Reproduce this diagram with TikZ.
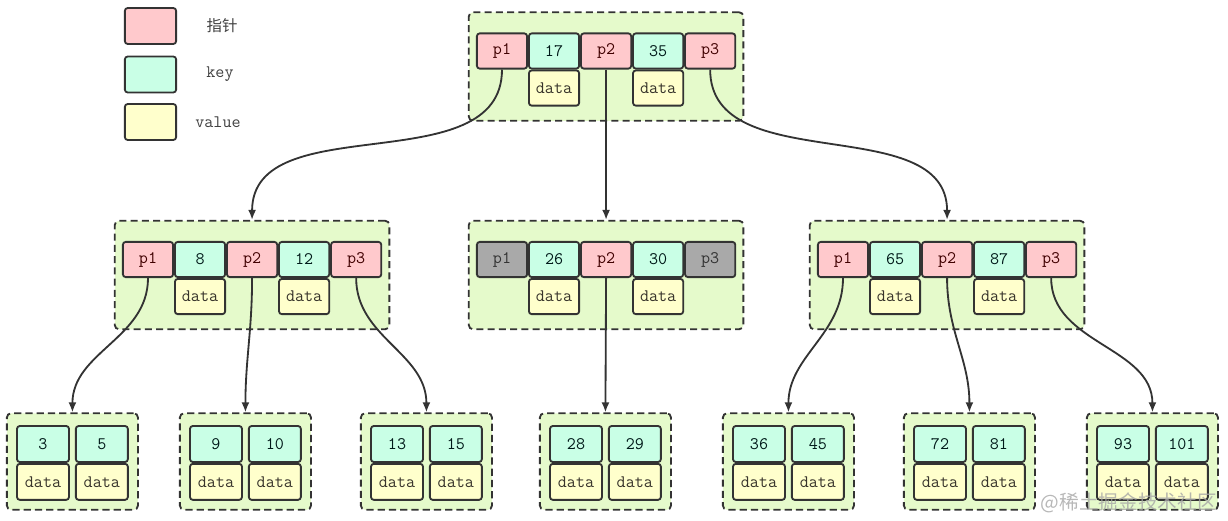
\documentclass[tikz,border=0pt]{standalone}
\usepackage{fontspec}
\newfontfamily\cjk{Noto Sans CJK SC}
\usepackage{tikz}
\usetikzlibrary{arrows.meta, positioning, fit, backgrounds}
\tikzset{>={Latex[width=2mm,length=2.5mm]}}
\definecolor{ptrred}{HTML}{FFC9CC}
\definecolor{keygreen}{HTML}{C9FFE6}
\definecolor{valyellow}{HTML}{FFFFCC}
\definecolor{nilgray}{HTML}{A9A9A9}
\definecolor{boxgreen}{HTML}{E5FACB}
\definecolor{linegray}{HTML}{333333}
\tikzset{
  cell/.style = {draw=linegray, line width=1.3pt, rounded corners=2pt,
    minimum width=1.255cm, minimum height=0.88cm, inner sep=0pt,
    font=\ttfamily\fontsize{12.5}{14}\selectfont},
  ptrcell/.style = {cell, fill=ptrred, text=black!75!red},
  keycell/.style = {cell, fill=keygreen, text=black!80!teal},
  valcell/.style = {cell, fill=valyellow, text=black!80!olive},
  nilcell/.style = {cell, fill=nilgray, text=black!80},
  leafcell/.style = {minimum width=1.3cm, minimum height=0.9cm},
  groupbox/.style = {draw=linegray, dash pattern=on 5pt off 3pt, line width=1.3pt,
    fill=boxgreen, rounded corners=3pt, inner xsep=0.18cm, inner ysep=0.43cm, yshift=0.075cm},
  leafbox/.style = {groupbox, inner xsep=0.23cm, inner ysep=0.26cm, yshift=-0.04cm},
  legendtext/.style = {text=black!75, font=\ttfamily\fontsize{12.5}{14}\selectfont}
}
\begin{document}
\begin{tikzpicture}[x=0.025cm, y=-0.025cm]
\useasboundingbox (0,0) rectangle (1228,520);
% legend
\node (lg1) [ptrcell, minimum width=1.28cm, minimum height=0.9cm] at (150.5,26) {};
\node (lg2) [keycell, minimum width=1.28cm, minimum height=0.9cm] at (150.5,74.5) {};
\node (lg3) [valcell, minimum width=1.28cm, minimum height=0.9cm] at (150.5,122) {};
\node (lgt1) [legendtext, font=\cjk\fontsize{11}{12}\selectfont] at (222,26) {指针};
\node (lgt2) [legendtext] at (220,74) {key};
\node (lgt3) [legendtext] at (218,122) {value};

% root
\node (r1) [ptrcell] at (502,51) {p1};
\node (rk1) [keycell, right=0pt of r1] {17};
\node (r2) [ptrcell, right=0pt of rk1] {p2};
\node (rk2) [keycell, right=0pt of r2] {35};
\node (r3) [ptrcell, right=0pt of rk2] {p3};
\node (rd1) [valcell, below=0pt of rk1] {data};
\node (rd2) [valcell, below=0pt of rk2] {data};

% second level
\node (a1) [ptrcell] at (148,259.5) {p1};
\node (ak1) [keycell, right=0pt of a1] {8};
\node (a2) [ptrcell, right=0pt of ak1] {p2};
\node (ak2) [keycell, right=0pt of a2] {12};
\node (a3) [ptrcell, right=0pt of ak2] {p3};
\node (ad1) [valcell, below=0pt of ak1] {data};
\node (ad2) [valcell, below=0pt of ak2] {data};

\node (b1) [nilcell] at (502,259.5) {p1};
\node (bk1) [keycell, right=0pt of b1] {26};
\node (b2) [ptrcell, right=0pt of bk1] {p2};
\node (bk2) [keycell, right=0pt of b2] {30};
\node (b3) [nilcell, right=0pt of bk2] {p3};
\node (bd1) [valcell, below=0pt of bk1] {data};
\node (bd2) [valcell, below=0pt of bk2] {data};

\node (c1) [ptrcell] at (843,259.5) {p1};
\node (ck1) [keycell, right=0pt of c1] {65};
\node (c2) [ptrcell, right=0pt of ck1] {p2};
\node (ck2) [keycell, right=0pt of c2] {87};
\node (c3) [ptrcell, right=0pt of ck2] {p3};
\node (cd1) [valcell, below=0pt of ck1] {data};
\node (cd2) [valcell, below=0pt of ck2] {data};

% leaves
\node (l1k1) [keycell, leafcell] at (43,444) {3};
\node (l1k2) [keycell, leafcell, right=0.125cm of l1k1] {5};
\node (l1d1) [valcell, leafcell, below=0pt of l1k1] {data};
\node (l1d2) [valcell, leafcell, below=0pt of l1k2] {data};

\node (l2k1) [keycell, leafcell] at (216,444) {9};
\node (l2k2) [keycell, leafcell, right=0.125cm of l2k1] {10};
\node (l2d1) [valcell, leafcell, below=0pt of l2k1] {data};
\node (l2d2) [valcell, leafcell, below=0pt of l2k2] {data};

\node (l3k1) [keycell, leafcell] at (397,444) {13};
\node (l3k2) [keycell, leafcell, right=0.125cm of l3k1] {15};
\node (l3d1) [valcell, leafcell, below=0pt of l3k1] {data};
\node (l3d2) [valcell, leafcell, below=0pt of l3k2] {data};

\node (l4k1) [keycell, leafcell] at (576,444) {28};
\node (l4k2) [keycell, leafcell, right=0.125cm of l4k1] {29};
\node (l4d1) [valcell, leafcell, below=0pt of l4k1] {data};
\node (l4d2) [valcell, leafcell, below=0pt of l4k2] {data};

\node (l5k1) [keycell, leafcell] at (759,444) {36};
\node (l5k2) [keycell, leafcell, right=0.125cm of l5k1] {45};
\node (l5d1) [valcell, leafcell, below=0pt of l5k1] {data};
\node (l5d2) [valcell, leafcell, below=0pt of l5k2] {data};

\node (l6k1) [keycell, leafcell] at (940,444) {72};
\node (l6k2) [keycell, leafcell, right=0.125cm of l6k1] {81};
\node (l6d1) [valcell, leafcell, below=0pt of l6k1] {data};
\node (l6d2) [valcell, leafcell, below=0pt of l6k2] {data};

\node (l7k1) [keycell, leafcell] at (1123,444) {93};
\node (l7k2) [keycell, leafcell, right=0.125cm of l7k1] {101};
\node (l7d1) [valcell, leafcell, below=0pt of l7k1] {data};
\node (l7d2) [valcell, leafcell, below=0pt of l7k2] {data};

% dashed boxes behind the cells
\begin{scope}[on background layer]
\node (R) [groupbox, fit=(r1)(r3)(rd1)] {};
\node (A) [groupbox, fit=(a1)(a3)(ad1)] {};
\node (B) [groupbox, fit=(b1)(b3)(bd1)] {};
\node (C) [groupbox, fit=(c1)(c3)(cd1)] {};
\node (L1) [leafbox, fit=(l1k1)(l1d2)] {};
\node (L2) [leafbox, fit=(l2k1)(l2d2)] {};
\node (L3) [leafbox, fit=(l3k1)(l3d2)] {};
\node (L4) [leafbox, fit=(l4k1)(l4d2)] {};
\node (L5) [leafbox, fit=(l5k1)(l5d2)] {};
\node (L6) [leafbox, fit=(l6k1)(l6d2)] {};
\node (L7) [leafbox, fit=(l7k1)(l7d2)] {};
\end{scope}

\path[->, line width=1.3pt, color=linegray]
(r1.south) edge [out=-90, in=90] (A.north)
(r2.south) edge (B.north)
(r3.south) edge [out=-90, in=90] (C.north)
(a1.south) edge [out=-90, in=90] (L1.north)
(a2.south) edge [out=-90, in=90] (L2.north)
(a3.south) edge [out=-90, in=90] (L3.north)
(b2.south) edge (L4.north)
(c1.south) edge [out=-90, in=90] (L5.north)
(c2.south) edge [out=-90, in=90] (L6.north)
(c3.south) edge [out=-90, in=90] (L7.north);

\node (wm) [anchor=east, text=gray!70, opacity=0.8, font=\cjk\fontsize{14}{14}\selectfont] at (1222,503) {@稀土掘金技术社区};
\end{tikzpicture}
\end{document}
